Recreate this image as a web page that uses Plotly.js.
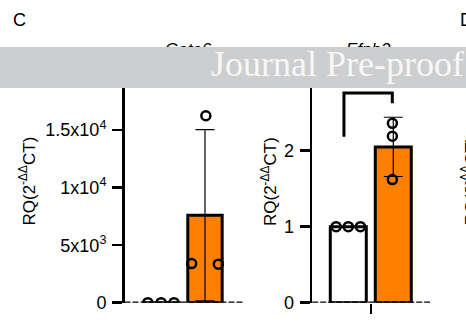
<!DOCTYPE html>
<html>
<head>
<meta charset="utf-8">
<script src="https://cdn.plot.ly/plotly-3.0.1.min.js"></script>
<style>html,body{margin:0;padding:0;background:#fff;}#chart{width:466px;height:321px;}</style>
</head>
<body>
<div id="chart"></div>
<script>
// ---- data ----
const groups = ["Control", "Treated"];
const gata6Points = [[1, 1, 1], [16250, 3400, 3350]];
const gata6Mean = [1, 7600];
const gata6SD = [0, 7450];
const efnb2Points = [[1, 1, 1], [2.36, 2.19, 1.62]];
const efnb2Mean = [1, 2.05];
const efnb2SD = [0, 0.39];
const gata6TickVals = [0, 5000, 10000, 15000];
const gata6TickText = ["0", "5x10<sup>3</sup>", "1x10<sup>4</sup>", "1.5x10<sup>4</sup>"];
const efnb2TickVals = [0, 1, 2];
const efnb2TickText = ["0", "1", "2"];
const panelTitles = ["Gata6", "Efnb2"];
const yTitle = "RQ(2<sup>-ΔΔ</sup>CT)";

// ---- styling / layout constants ----
const ORANGE = "#ff8000";
const FILLS = ["#ffffff", ORANGE];
const JITTER = {
  gata6: [[-0.33, -0.02, 0.28], [0.02, -0.31, 0.31]],
  efnb2: [[-0.27, 0, 0.27], [-0.02, -0.02, -0.02]]
};
const FONT = "Liberation Sans, Arial, sans-serif";

function panelTraces(points, mean, sd, jit, xa, ya) {
  const tr = [];
  groups.forEach((g, i) => {
    tr.push({
      type: "bar", x: [i], y: [mean[i]], width: 0.8, name: g,
      xaxis: xa, yaxis: ya,
      marker: {color: FILLS[i], line: {color: "#000", width: 3}},
      error_y: sd[i] > 0 ? {type: "data", array: [sd[i]], visible: true, color: "#000", thickness: 1.2, width: 9.5} : {visible: false},
      showlegend: false, hoverinfo: "skip"
    });
  });
  groups.forEach((g, i) => {
    tr.push({
      type: "scatter", mode: "markers",
      x: points[i].map((v, k) => i + jit[i][k]), y: points[i],
      xaxis: xa, yaxis: ya,
      marker: {symbol: "circle-open", size: 9, color: "#000", line: {width: 2.5, color: "#000"}},
      showlegend: false, hoverinfo: "skip"
    });
  });
  return tr;
}

const data = [].concat(
  panelTraces(gata6Points, gata6Mean, gata6SD, JITTER.gata6, "x", "y"),
  panelTraces(efnb2Points, efnb2Mean, efnb2SD, JITTER.efnb2, "x2", "y2")
);

const W = 466, H = 321;
const px = v => v / W;
const py = v => 1 - v / H;

const yCommon = {
  domain: [py(302.7), py(60)],
  showline: true, linewidth: 2.5, linecolor: "#000",
  ticks: "outside", ticklen: 10, tickwidth: 2.5, tickcolor: "#000",
  ticklabelstandoff: 2,
  tickfont: {family: FONT, size: 18, color: "#000"},
  showgrid: false, zeroline: false, fixedrange: true
};
const xCommon = {
  showline: false, showgrid: false, zeroline: false, showticklabels: false, fixedrange: true
};

const layout = {
  width: W, height: H,
  margin: {l: 0, r: 0, t: 0, b: 0},
  paper_bgcolor: "#fff", plot_bgcolor: "rgba(0,0,0,0)",
  barmode: "overlay",
  showlegend: false,
  xaxis: Object.assign({}, xCommon, {domain: [px(124.5), px(243)], range: [-0.872, 1.884], ticks: ""}),
  yaxis: Object.assign({}, yCommon, {range: [0, 21100], tickvals: gata6TickVals, ticktext: gata6TickText}),
  xaxis2: Object.assign({}, xCommon, {domain: [px(312.2), px(430)], range: [-0.802, 1.816], anchor: "y2",
    tickvals: [0.5], ticks: "outside", ticklen: 10, tickwidth: 2.5, tickcolor: "#000"}),
  yaxis2: Object.assign({}, yCommon, {anchor: "x2", range: [0, 3.193], tickvals: efnb2TickVals, ticktext: efnb2TickText}),
  shapes: [
    {type: "line", xref: "x domain", yref: "y", x0: 0, x1: 1, y0: 0, y1: 0, layer: "above",
     line: {color: "#000", width: 2.2, dash: "6px,2px"}},
    {type: "line", xref: "x2 domain", yref: "y2", x0: 0, x1: 1, y0: 0, y1: 0, layer: "above",
     line: {color: "#000", width: 2.2, dash: "6px,2px"}},
    {type: "path", xref: "x2", yref: "y2", path: "M -0.096,2.184 V 2.759 H 0.978 V 2.624",
     line: {color: "#000", width: 3}, layer: "above"},
    {type: "rect", xref: "paper", yref: "paper", x0: 0, x1: 1, y0: py(88), y1: py(47),
     fillcolor: "#cdcecf", line: {width: 0}, layer: "above"}
  ],
  annotations: [
    {text: "C", xref: "paper", yref: "paper", x: px(11), y: py(20.5), xanchor: "left", yanchor: "middle",
     showarrow: false, font: {family: FONT, size: 18, color: "#000"}},
    {text: "D", xref: "paper", yref: "paper", x: px(458), y: py(20.5), xanchor: "left", yanchor: "middle",
     showarrow: false, font: {family: FONT, size: 18, color: "#000"}},
    {text: "<i>" + panelTitles[0] + "</i>", xref: "paper", yref: "paper", x: px(188), y: py(49), xanchor: "center", yanchor: "middle",
     showarrow: false, font: {family: FONT, size: 17, color: "#000"}},
    {text: "<i>" + panelTitles[1] + "</i>", xref: "paper", yref: "paper", x: px(368), y: py(49), xanchor: "center", yanchor: "middle",
     showarrow: false, font: {family: FONT, size: 17, color: "#000"}},
    {text: yTitle, xref: "paper", yref: "paper", x: px(27), y: py(181.5), xanchor: "center", yanchor: "middle",
     textangle: -90, showarrow: false, font: {family: FONT, size: 17, color: "#000"}},
    {text: yTitle, xref: "paper", yref: "paper", x: px(268.5), y: py(181.5), xanchor: "center", yanchor: "middle",
     textangle: -90, showarrow: false, font: {family: FONT, size: 17, color: "#000"}},
    {text: yTitle, xref: "paper", yref: "paper", x: px(469), y: py(181.5), xanchor: "center", yanchor: "middle",
     textangle: -90, showarrow: false, font: {family: FONT, size: 17, color: "#000"}},
    // watermark band (drawn over the panel titles)
    {text: " ", xref: "paper", yref: "paper", x: 0, y: py(47), xanchor: "left", yanchor: "top",
     width: W, height: 41, bgcolor: "#cdcecf", borderpad: 0, borderwidth: 0, showarrow: false},
    {text: "Journal Pre-proof", xref: "paper", yref: "paper", x: px(465), y: py(64.5), xanchor: "right", yanchor: "middle",
     borderpad: 0, showarrow: false, font: {family: "Liberation Serif, Times New Roman, serif", size: 36, color: "#f7f7f7"}}
  ]
};

Plotly.newPlot("chart", data, layout, {staticPlot: true, displayModeBar: false});
</script>
</body>
</html>
